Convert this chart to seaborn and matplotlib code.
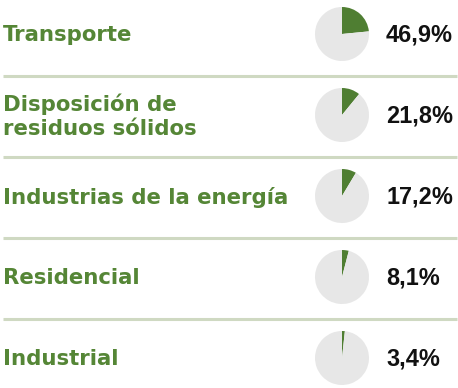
import matplotlib
matplotlib.use("Agg")
import matplotlib.pyplot as plt
import seaborn as sns

sectors = [
    "Transporte",
    "Disposición de\nresiduos sólidos",
    "Industrias de la energía",
    "Residencial",
    "Industrial",
]
shares = [46.9, 21.8, 17.2, 8.1, 3.4]
share_labels = ["46,9%", "21,8%", "17,2%", "8,1%", "3,4%"]

# the wedges are drawn against a full circle of 200 %
full_circle = 200.0

GREEN_TEXT = "#558636"
GREEN_WEDGE = "#4f7e32"
GREY_WEDGE = "#e7e7e7"
RULE = "#cfd9c2"

sns.set_theme(style="white")
plt.rcParams["font.family"] = ["DejaVu Sans"]

W, H = 458, 388
fig = plt.figure(figsize=(W / 100, H / 100), dpi=100)
ax = fig.add_axes([0, 0, 1, 1])
ax.set_xlim(0, W)
ax.set_ylim(H, 0)
ax.axis("off")

top, step = 34, 81
pie_x, pie_r = 342, 27

for i, (name, val, lab) in enumerate(zip(sectors, shares, share_labels)):
    cy = top + i * step
    ax.text(3, cy + 1, name, ha="left", va="center", color=GREEN_TEXT,
            fontsize=15.3, fontweight="bold", linespacing=1.22)
    ax.text(386, cy + 1, lab, ha="left", va="center", color="#111111",
            fontsize=16.9, fontweight="bold",
            family=["Liberation Sans", "DejaVu Sans"])
    if i < len(sectors) - 1:
        ax.plot([3, 457], [cy + 41.5, cy + 41.5], color=RULE, lw=2.2,
                solid_capstyle="butt")
    pax = fig.add_axes([(pie_x - pie_r) / W, 1 - (cy + pie_r) / H,
                        2 * pie_r / W, 2 * pie_r / H])
    pax.pie([val, full_circle - val], startangle=90, counterclock=False,
            colors=[GREEN_WEDGE, GREY_WEDGE],
            wedgeprops=dict(linewidth=0))
    pax.set_xlim(-1, 1)
    pax.set_ylim(-1, 1)
    pax.set_aspect("equal")
    pax.axis("off")

fig.savefig("out.png", dpi=100)
